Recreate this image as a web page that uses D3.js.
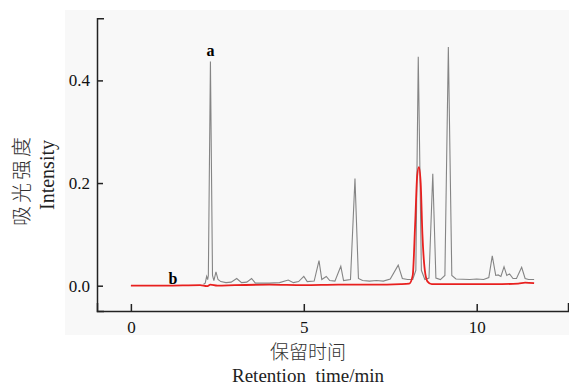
<!DOCTYPE html>
<html><head><meta charset="utf-8">
<script src="https://cdn.jsdelivr.net/npm/d3@7"></script>
<style>body{margin:0;background:#fff}</style>
</head><body><svg id="c" width="569" height="385"></svg>
<script>
const grayTime = [2.10,2.15,2.19,2.22,2.24,2.30,2.36,2.40,2.46,2.52,2.60,2.75,2.90,3.06,3.20,3.35,3.49,3.60,4.00,4.30,4.55,4.70,4.85,5.00,5.10,5.30,5.44,5.52,5.65,5.75,5.90,6.07,6.15,6.35,6.48,6.58,6.70,6.90,7.10,7.30,7.50,7.73,7.85,8.00,8.15,8.24,8.31,8.40,8.50,8.62,8.73,8.82,8.95,9.08,9.18,9.28,9.40,9.80,10.00,10.20,10.35,10.45,10.55,10.62,10.70,10.79,10.87,10.95,11.05,11.15,11.30,11.40,11.50,11.66];
const grayValue = [0.003,0.005,0.018,0.012,0.02,0.437,0.02,0.010,0.027,0.012,0.008,0.006,0.007,0.014,0.006,0.007,0.014,0.005,0.005,0.006,0.011,0.006,0.008,0.018,0.008,0.009,0.049,0.012,0.018,0.010,0.009,0.038,0.010,0.012,0.209,0.014,0.010,0.009,0.010,0.009,0.013,0.040,0.014,0.012,0.012,0.03,0.446,0.03,0.012,0.015,0.218,0.015,0.012,0.02,0.465,0.02,0.013,0.012,0.013,0.012,0.016,0.058,0.020,0.021,0.018,0.037,0.020,0.023,0.014,0.014,0.036,0.014,0.012,0.012];
const redTime = [0,1.0,2.0,2.2,2.3,2.5,3.0,4.0,5.0,6.0,7.0,7.8,8.05,8.15,8.22,8.28,8.33,8.38,8.43,8.50,8.58,8.70,9.5,10.5,11.2,11.4,11.66];
const redValue = [0.0,0.0,0.001,-0.001,0.002,0.0,0.001,0.002,0.001,0.002,0.002,0.003,0.004,0.02,0.12,0.215,0.231,0.20,0.10,0.03,0.008,0.003,0.003,0.003,0.004,0.006,0.005];
const xTicks = [0,5,10];
const yTicks = [0.0,0.2,0.4];

const svg = d3.select('#c');
svg.append('rect').attr('x',65).attr('y',10).attr('width',504).attr('height',325).attr('fill','#f8f8f8');
const x = d3.scaleLinear().domain([-0.98,12.64]).range([97,568]);
const y = d3.scaleLinear().domain([-0.0493,0.521]).range([311,18.3]);

const xa = svg.append('g').attr('transform','translate(0,311)')
  .call(d3.axisBottom(x).tickValues(xTicks).tickFormat(d3.format('d')).tickSize(-7).tickSizeOuter(-8).tickPadding(10));
const ya = svg.append('g').attr('transform','translate(97,0)')
  .call(d3.axisLeft(y).tickValues(yTicks).tickFormat(d3.format('.1f')).tickSize(-6).tickSizeOuter(-7).tickPadding(7));
[xa,ya].forEach(g=>{
  g.attr('font-family','"Liberation Serif", serif').attr('font-size',17);
  g.selectAll('path,line').attr('stroke','#222').attr('stroke-width',1.5);
  g.selectAll('text').style('font-family','"Liberation Serif", serif').style('font-size','17px').attr('fill','#111');
});

const line = d3.line().x(d=>x(d[0])).y(d=>y(d[1]));
svg.append('path').datum(grayTime.map((t,i)=>[t,grayValue[i]])).attr('d',line)
  .attr('fill','none').attr('stroke','#858585').attr('stroke-width',1.1);
svg.append('path').datum(redTime.map((t,i)=>[t,redValue[i]])).attr('d',line.curve(d3.curveMonotoneX))
  .attr('fill','none').attr('stroke','#e8201f').attr('stroke-width',1.8);

svg.append('text').attr('x',x(2.30)).attr('y',y(0.437)-5).attr('text-anchor','middle')
  .style('font-family','"Liberation Serif", serif').attr('font-weight','bold').attr('font-size',16).text('a');
svg.append('text').attr('x',173).attr('y',y(0.0)-2).attr('text-anchor','middle')
  .style('font-family','"Liberation Serif", serif').attr('font-weight','bold').attr('font-size',16).text('b');

svg.append('text').attr('transform','translate(29,180) rotate(-90)').attr('text-anchor','middle')
  .style('font-family','"Noto Sans CJK SC"').attr('font-size',20).attr('font-weight',300).attr('letter-spacing',3).attr('fill','#333').text('吸光强度');
svg.append('text').attr('transform','translate(54,175) rotate(-90)').attr('text-anchor','middle')
  .style('font-family','"Liberation Serif", serif').attr('font-size',20).attr('fill','#222').text('Intensity');
svg.append('text').attr('x',308).attr('y',359).attr('text-anchor','middle')
  .style('font-family','"Noto Sans CJK SC"').attr('font-size',19).attr('font-weight',300).attr('fill','#333').text('保留时间');
svg.append('text').attr('x',308).attr('y',382).attr('text-anchor','middle')
  .style('font-family','"Liberation Serif", serif').attr('font-size',19).attr('fill','#222').style('white-space','pre').text('Retention  time/min');
</script></body></html>
